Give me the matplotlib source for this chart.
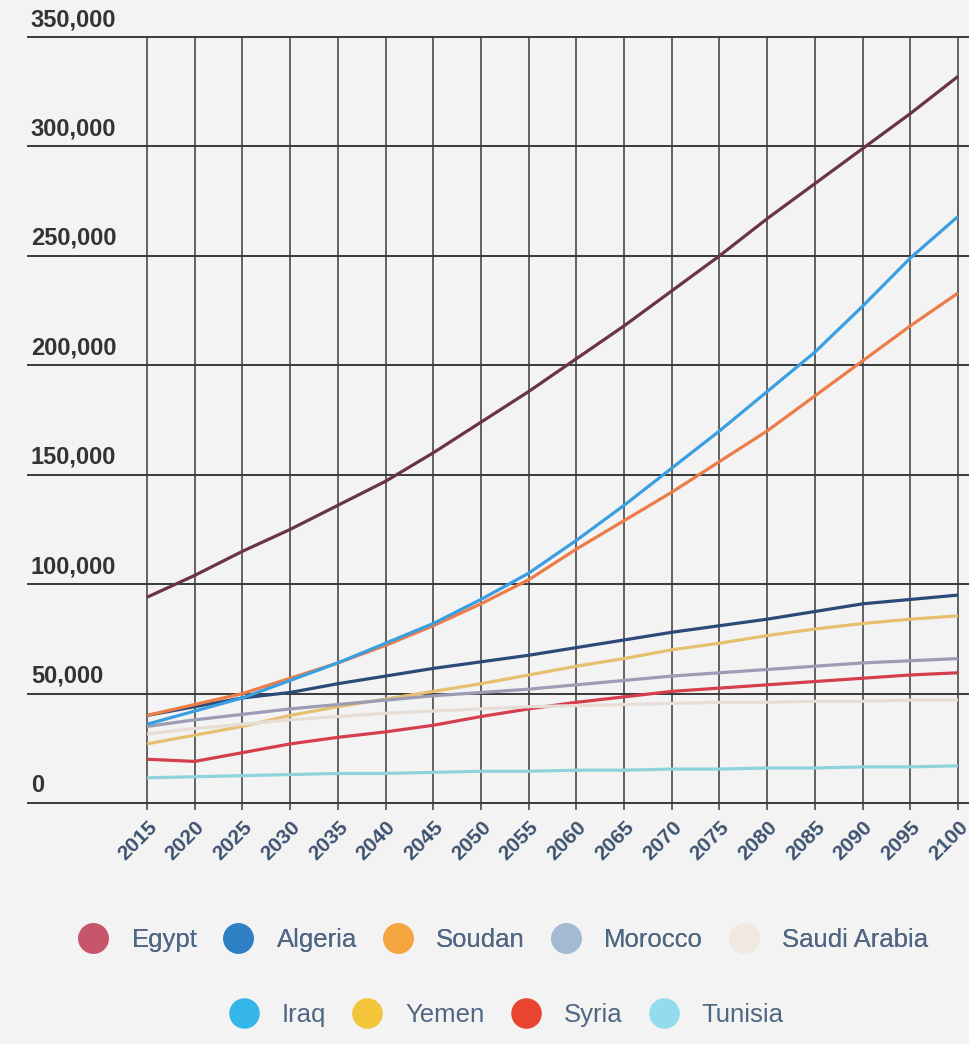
import matplotlib.pyplot as plt
import matplotlib.transforms as mtransforms
from matplotlib.lines import Line2D

plt.rcParams['font.family'] = ['Liberation Sans', 'DejaVu Sans']

years = list(range(2015, 2101, 5))

# population in thousands
egypt = [94, 104, 115, 125, 136, 147, 160, 174, 188, 203, 218, 234, 250, 267, 283, 299, 315, 332]
algeria = [40, 44, 48, 50.5, 54.5, 58, 61.5, 64.5, 67.5, 71, 74.5, 78, 81, 84, 87.5, 91, 93, 95]
soudan = [40, 45, 50, 57, 64, 72, 81, 91, 102, 116, 129, 142, 156, 170, 186, 202, 218, 233]
morocco = [35, 38, 40.5, 43, 45, 47, 49, 50.5, 52, 54, 56, 58, 59.5, 61, 62.5, 64, 65, 66]
saudi = [31.5, 34, 36, 38, 39.5, 41, 42, 43, 44, 44.5, 45, 45.5, 46, 46, 46.5, 46.5, 47, 47]
iraq = [36, 42, 48, 56, 64, 73, 82, 93, 105, 120, 136, 153, 170, 188, 206, 227, 249, 268]
yemen = [27, 31, 35, 40, 44, 47.5, 51, 54.5, 58.5, 62.5, 66, 70, 73, 76.5, 79.5, 82, 84, 85.5]
syria = [20, 19, 23, 27, 30, 32.5, 35.5, 39.5, 43, 46, 48.5, 51, 52.5, 54, 55.5, 57, 58.5, 59.5]
tunisia = [11.5, 12, 12.5, 13, 13.5, 13.5, 14, 14.5, 14.5, 15, 15, 15.5, 15.5, 16, 16, 16.5, 16.5, 17]

countries = ['Egypt', 'Algeria', 'Soudan', 'Morocco', 'Saudi Arabia',
             'Iraq', 'Yemen', 'Syria', 'Tunisia']
series = [egypt, algeria, soudan, morocco, saudi, iraq, yemen, syria, tunisia]
line_colors = ['#6b3446', '#2c4a78', '#ec7d48', '#9c9cb4', '#e6ded6',
               '#3a9fe0', '#e6c070', '#d63e4e', '#8cd3dc']
dot_colors = ['#c8566a', '#2f7fc4', '#f4a540', '#a4b9d2', '#efe9e2',
              '#35b6ea', '#f2c53a', '#e8442f', '#93dcf0']
draw_order = [8, 7, 6, 4, 3, 1, 2, 5, 0]

yticks = [0, 50000, 100000, 150000, 200000, 250000, 300000, 350000]

W, H = 970, 1044
fig = plt.figure(figsize=(W / 100, H / 100), dpi=100, facecolor='#f3f3f3')
ax = fig.add_axes([27 / W, (H - 803) / H, 1 - 27 / W, (803 - 37) / H])
ax.set_facecolor('#f3f3f3')
for s in ax.spines.values():
    s.set_visible(False)

ppy = (958 - 147) / 85
ax.set_xlim(2015 - 120 / ppy, 2100 + 12 / ppy)
ax.set_ylim(0, 350000)

# grid
ax.hlines(yticks, ax.get_xlim()[0], ax.get_xlim()[1], color='#2b2b2b', lw=1.3,
          clip_on=False, zorder=1)
ax.vlines(years, 0, 350000, color='#3a3a3a', lw=1.1, zorder=1)

for i in draw_order:
    ax.plot(years, [v * 1000 for v in series[i]], color=line_colors[i], lw=2.3,
            solid_capstyle='butt', zorder=3)

# y labels sit above their grid line
ylab_tr = mtransforms.blended_transform_factory(ax.transAxes, ax.transData)
for v in yticks:
    ax.text(0.004, v, f'{v:,}', transform=ylab_tr + mtransforms.ScaledTranslation(0, 6 / 100, fig.dpi_scale_trans),
            ha='left', va='bottom', fontsize=17, fontweight='bold', color='#333333')
ax.set_yticks([])

ax.set_xticks(years)
ax.set_xticklabels([str(y) for y in years], rotation=45, ha='right', va='center',
                   rotation_mode='anchor', fontsize=15, fontweight='bold', color='#3d5270')
ax.tick_params(axis='x', length=5, width=1.1, color='#3a3a3a', pad=0)
offset = mtransforms.ScaledTranslation(7 / 100, -14 / 100, fig.dpi_scale_trans)
for lab in ax.get_xticklabels():
    lab.set_transform(lab.get_transform() + offset)

# legend in two centred rows
handles = [Line2D([], [], ls='none', marker='o', markersize=22, markerfacecolor=c,
                  markeredgecolor='none') for c in dot_colors]
leg_kw = dict(frameon=False, fontsize=18.5, handlelength=1.2, handletextpad=0.88,
              columnspacing=1.0, labelcolor='#4f6783', loc='center')
leg1 = fig.legend(handles[:5], countries[:5], ncol=5,
                  bbox_to_anchor=(503 / W, (H - 940) / H), **leg_kw)
fig.add_artist(leg1)
fig.legend(handles[5:], countries[5:], ncol=4,
           bbox_to_anchor=(506 / W, (H - 1015) / H), **leg_kw)

fig.savefig('out.png', dpi=100, facecolor=fig.get_facecolor())
